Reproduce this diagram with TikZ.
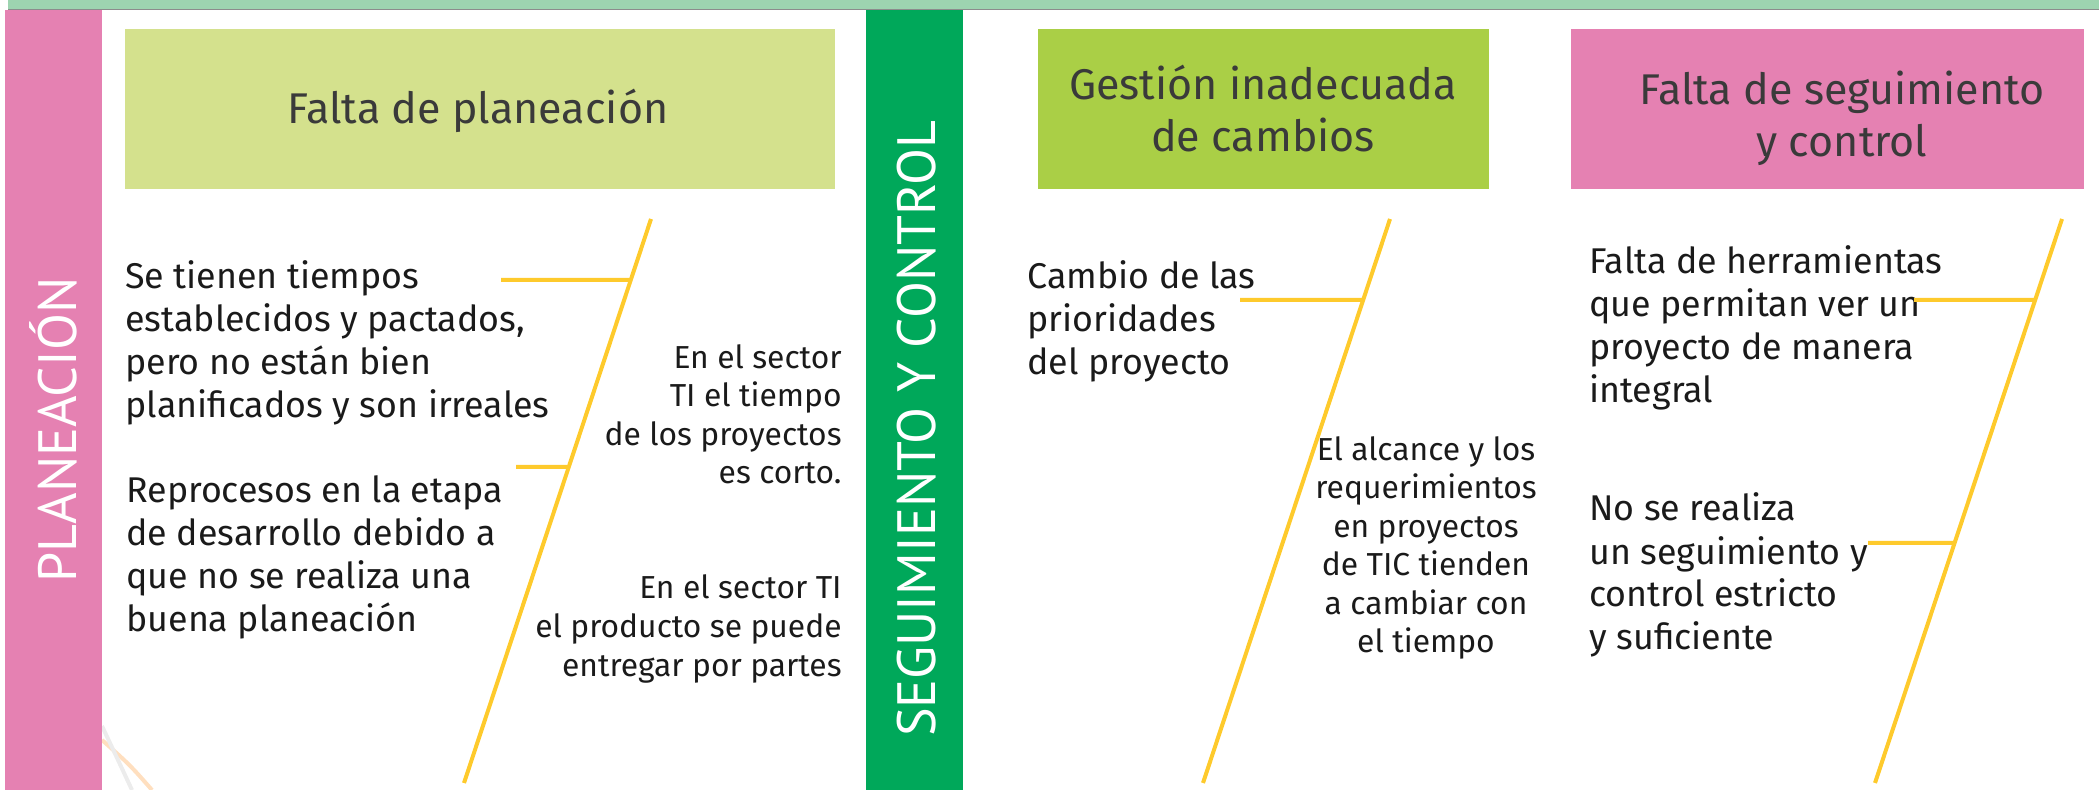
\documentclass[tikz,border=0pt]{standalone}
\usepackage{fontspec}
\setmainfont{Fira Sans}
\newfontfamily\barfont{PT Sans}
\usepackage{xcolor}
\usetikzlibrary{positioning, calc}
\definecolor{bandgreen}{HTML}{9DD4B0}
\definecolor{catpink}{HTML}{E581B2}
\definecolor{catgreen}{HTML}{00A85A}
\definecolor{headlime}{HTML}{D4E18D}
\definecolor{headgreen}{HTML}{AACF46}
\definecolor{boneyellow}{HTML}{FECA2C}
\definecolor{headtext}{HTML}{3A3A3A}
\definecolor{bodytext}{HTML}{1A1A1A}
\tikzset{
  head/.style={inner sep=0pt, anchor=base, align=center, text=headtext, font=\fontsize{21.5}{26}\selectfont},
  cause/.style={inner sep=0pt, anchor=base west, align=left, text=bodytext, font=\fontsize{17.9}{21.5}\selectfont},
  note/.style={inner sep=0pt, text=bodytext, font=\fontsize{15.9}{19.3}\selectfont},
  barlabel/.style={inner sep=0pt, anchor=base, rotate=90, text=white, font=\barfont\fontsize{27}{30}\selectfont},
  bone/.style={draw=boneyellow, line width=2pt},
}

\begin{document}
\begin{tikzpicture}[x=0.5pt, y=-0.5pt]

\useasboundingbox (0,0) rectangle (2099,790);
\fill[bandgreen] (8,0) rectangle (2099,9);
\draw[gray!90, line width=0.8pt] (8,9.5) -- (2099,9.5);
\draw[orange!25, line width=2pt] (102,740) .. controls (130,765) .. (152,790);
\draw[gray!15, line width=2pt] (102,726) .. controls (118,760) .. (132,790);
\fill[catpink] (5,10) rectangle (102,790);
\fill[catgreen] (866,10) rectangle (963,790);
\fill[headlime] (124.5,29.5) rectangle (835,189);
\fill[headgreen] (1038,29.5) rectangle (1489,189);
\fill[catpink] (1571,29.5) rectangle (2084,189);

\node[barlabel] (planeacion) at (76,430) {PLANEACIÓN};
\node[barlabel] (seguimiento) at (935,429) {SEGUIMIENTO Y CONTROL};

\node[head] (h1) at (478,124) {Falta de planeación};
\node[head] (h2) at (1263,152) {Gestión inadecuada\\de cambios};
\node[head] (h3) at (1842,157) {Falta de seguimiento\\y control};

\node[cause] (c1) at (125,418) {Se tienen tiempos\\establecidos y pactados,\\pero no están bien\\planificados y son irreales};
\node[cause] (c2) at (126,632) {Reprocesos en la etapa\\de desarrollo debido a\\que no se realiza una\\buena planeación};
\node[note, anchor=base east, align=right] (n1) at (842,484) {En el sector\\TI el tiempo\\de los proyectos\\es corto.};
\node[note, anchor=base east, align=right] (n2) at (842,676) {En el sector TI\\el producto se puede\\entregar por partes};
\node[cause] (c3) at (1027,375) {Cambio de las\\prioridades\\del proyecto};
\node[note, anchor=base, align=center] (n3) at (1426,653) {El alcance y los\\requerimientos\\en proyectos\\de TIC tienden\\a cambiar con\\el tiempo};
\node[cause] (c4) at (1589,403) {Falta de herramientas\\que permitan ver un\\proyecto de manera\\integral};
\node[cause] (c5) at (1589,650) {No se realiza\\un seguimiento y\\control estricto\\y suficiente};

\foreach \n/\x in {1/651, 2/1390, 3/2062} {
  \coordinate (top\n) at (\x,219);
  \coordinate (bot\n) at (\x-187,783);
  \draw[bone] (top\n) -- (bot\n);
}
\foreach \n/\s/\x/\y in {a/1/501/280, b/1/516/467, c/2/1240/300, d/3/1914/300, e/3/1868/543} {
  \coordinate (rib\n) at (\x,\y);
  \draw[bone] (rib\n) -- ($(top\s)!{(\y-219)/564}!(bot\s)$);
}

\end{tikzpicture}
\end{document}
